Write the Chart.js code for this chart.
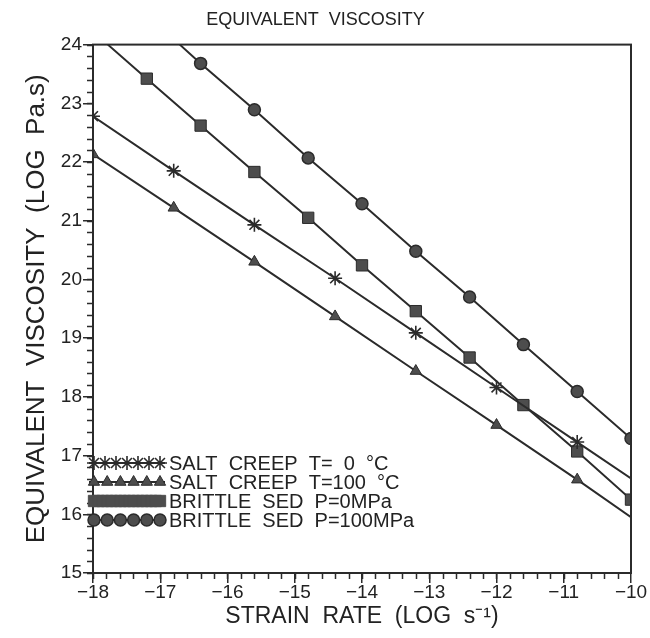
<!DOCTYPE html>
<html>
<head>
<meta charset="utf-8">
<script src="https://cdn.jsdelivr.net/npm/chart.js@4.4.0/dist/chart.umd.min.js"></script>
<style>
  html, body { margin: 0; padding: 0; background: #fff; }
  #wrap { width: 650px; height: 638px; }
</style>
</head>
<body>
<div id="wrap"><canvas id="viscChart" width="650" height="638"></canvas></div>
<script>
// strain rate (log s-1) and viscosity (log Pa.s)
var saltColdX = [-18, -16.8, -15.6, -14.4, -13.2, -12.0, -10.8, -10];
var saltColdY = [22.78, 21.85, 20.93, 20.02, 19.09, 18.16, 17.23, 16.61];

var saltHotX = [-18, -16.8, -15.6, -14.4, -13.2, -12.0, -10.8, -10];
var saltHotY = [22.13, 21.22, 20.30, 19.37, 18.44, 17.52, 16.59, 15.95];

var brittle0X = [-17.78, -17.2, -16.4, -15.6, -14.8, -14.0, -13.2, -12.4, -11.6, -10.8, -10.0];
var brittle0Y = [24.0, 23.42, 22.62, 21.83, 21.05, 20.24, 19.46, 18.67, 17.86, 17.07, 16.25];

var brittle100X = [-16.71, -16.4, -15.6, -14.8, -14.0, -13.2, -12.4, -11.6, -10.8, -10.0];
var brittle100Y = [24.0, 23.68, 22.89, 22.07, 21.29, 20.48, 19.70, 18.89, 18.09, 17.29];

var seriesLabels = ['SALT  CREEP  T=  0  °C', 'SALT  CREEP  T=100  °C', 'BRITTLE  SED  P=0MPa', 'BRITTLE  SED  P=100MPa'];
var xTicks = [-18, -17, -16, -15, -14, -13, -12, -11, -10];

var ink = '#2b2b2b';
var fontFam = '"Liberation Sans", Arial, sans-serif';

function toPoints(xs, ys) {
    return xs.map(function(x, i) { return { x: x, y: ys[i] }; });
}

// markers only where the original has them (no marker on the clipped ends)
function radii(n, r, skipFirst, skipLast) {
    var out = [];
    for (var i = 0; i < n; i++) {
        if ((skipFirst && i === 0) || (skipLast && i === n - 1)) out.push(0);
        else out.push(r);
    }
    return out;
}

var datasets = [
    { label: seriesLabels[0], data: toPoints(saltColdX, saltColdY), pointStyle: 'star',
      pointRadius: radii(saltColdX.length, 7, false, true), pointBorderWidth: 1.6, legendCount: 7 },
    { label: seriesLabels[1], data: toPoints(saltHotX, saltHotY), pointStyle: 'triangle',
      pointRadius: radii(saltHotX.length, 6.5, false, true), pointBorderWidth: 1, legendCount: 6 },
    { label: seriesLabels[2], data: toPoints(brittle0X, brittle0Y), pointStyle: 'rect',
      pointRadius: radii(brittle0X.length, 8, true, false), pointBorderWidth: 1, legendCount: 16 },
    { label: seriesLabels[3], data: toPoints(brittle100X, brittle100Y), pointStyle: 'circle',
      pointRadius: radii(brittle100X.length, 6, true, false), pointBorderWidth: 1.5, legendCount: 6 }
];
datasets.forEach(function(d) {
    d.borderColor = ink;
    d.borderWidth = 2;
    d.backgroundColor = '#4a4a4a';
    d.pointBackgroundColor = '#4d4d4d';
    d.pointBorderColor = ink;
    d.pointHoverRadius = 0;
    d.tension = 0;
    d.fill = false;
});

// frame, minor ticks and the in-plot legend
var framePlugin = {
    id: 'framePlugin',
    afterDraw: function(chart) {
        var ctx = chart.ctx;
        var a = chart.chartArea;
        var xs = chart.scales.x, ys = chart.scales.y;
        ctx.save();
        ctx.strokeStyle = ink;
        ctx.lineWidth = 2;
        ctx.strokeRect(a.left, a.top, a.right - a.left, a.bottom - a.top);

        ctx.lineWidth = 1.5;
        ctx.beginPath();
        for (var v = -18; v <= -10.001; v += 0.2) {
            var px = Math.round(xs.getPixelForValue(v)) + 0.5;
            ctx.moveTo(px, a.bottom);
            ctx.lineTo(px, a.bottom + 6);
        }
        for (var w = 15; w <= 24.001; w += 0.2) {
            var py = Math.round(ys.getPixelForValue(w)) + 0.5;
            ctx.moveTo(a.left, py);
            ctx.lineTo(a.left - 6, py);
        }
        ctx.stroke();

        // legend rows
        var rowY = [463, 482, 501, 520];
        var x0 = a.left - 4, x1 = a.left + 72;
        ctx.font = '20px ' + fontFam;
        ctx.textBaseline = 'middle';
        chart.data.datasets.forEach(function(d, i) {
            var y = rowY[i];
            ctx.strokeStyle = ink;
            ctx.lineWidth = 2;
            ctx.beginPath();
            ctx.moveTo(x0, y);
            ctx.lineTo(x1, y);
            ctx.stroke();
            var n = d.legendCount;
            var r = Math.max.apply(null, d.pointRadius);
            for (var k = 0; k < n; k++) {
                var mx = x0 + 5 + k * (x1 - x0 - 10) / (n - 1);
                ctx.fillStyle = d.pointBackgroundColor;
                ctx.strokeStyle = d.pointStyle === 'rect' ? d.pointBackgroundColor : ink;
                ctx.lineWidth = d.pointBorderWidth;
                Chart.helpers.drawPoint(ctx, { pointStyle: d.pointStyle, radius: r, rotation: 0, borderWidth: d.pointBorderWidth }, mx, y);
            }
            ctx.fillStyle = '#222';
            ctx.fillText(d.label, x1 + 4, y + 1);
        });
        ctx.restore();
    }
};

var ctx = document.getElementById('viscChart').getContext('2d');
var viscChart = new Chart(ctx, {
    type: 'line',
    data: { datasets: datasets },
    options: {
        responsive: false,
        animation: false,
        events: [],
        layout: { padding: { left: 0, right: 19, top: 0, bottom: 0 } },
        plugins: {
            legend: { display: false },
            tooltip: { enabled: false },
            title: {
                display: true,
                text: 'EQUIVALENT  VISCOSITY',
                color: '#222',
                font: { family: fontFam, size: 18, weight: 'normal' },
                padding: { top: 9, bottom: 14 }
            }
        },
        scales: {
            x: {
                type: 'linear',
                min: -18,
                max: -10,
                afterFit: function(s) { s.height = 65; },
                afterBuildTicks: function(s) { s.ticks = xTicks.map(function(v) { return { value: v }; }); },
                ticks: {
                    color: '#222',
                    padding: -2,
                    maxRotation: 0,
                    font: { family: fontFam, size: 19 },
                    callback: function(v) { return '\u2212' + Math.abs(v); }
                },
                grid: { drawOnChartArea: false, drawTicks: true, tickLength: 10, color: ink, lineWidth: 1.5 },
                border: { display: true, color: ink, width: 2 },
                title: {
                    display: true,
                    text: 'STRAIN  RATE  (LOG  s\u207B\u00B9)',
                    color: '#222',
                    font: { family: fontFam, size: 23 },
                    padding: { top: 0, bottom: 8 }
                }
            },
            y: {
                min: 15,
                max: 24,
                afterFit: function(s) { s.width = 93; },
                ticks: {
                    stepSize: 1,
                    color: '#222',
                    padding: 1,
                    font: { family: fontFam, size: 19 }
                },
                grid: { drawOnChartArea: false, drawTicks: true, tickLength: 10, color: ink, lineWidth: 1.5 },
                border: { display: true, color: ink, width: 2 },
                title: {
                    display: true,
                    text: 'EQUIVALENT  VISCOSITY  (LOG  Pa.s)',
                    color: '#222',
                    font: { family: fontFam, size: 26 },
                    padding: { top: 21, bottom: 0 }
                }
            }
        }
    },
    plugins: [framePlugin]
});
</script>
</body>
</html>
